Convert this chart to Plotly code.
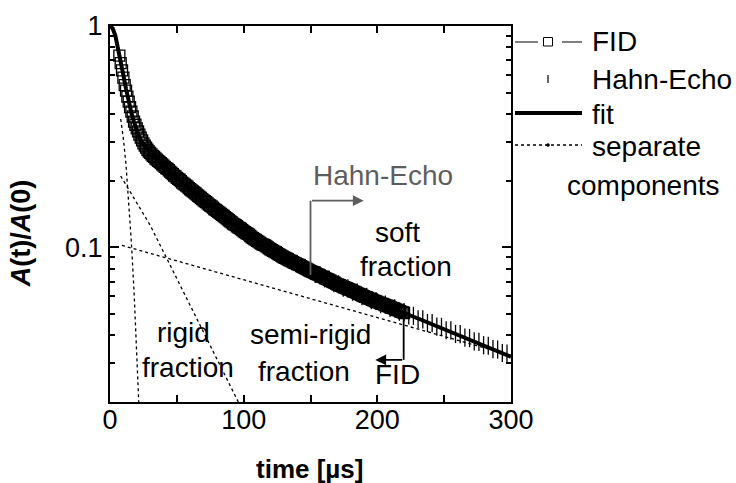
import math
import plotly.graph_objects as go

# ---- measured echo amplitudes ------------------------------------------------
fid_t = list(range(7, 221))
fid_amp = [
    0.735, 0.680, 0.630, 0.585, 0.540, 0.510, 0.480, 0.455, 0.430, 0.410,
    0.390, 0.370, 0.358, 0.345, 0.334, 0.323, 0.313, 0.304, 0.295, 0.288,
    0.282, 0.276, 0.271, 0.267, 0.263, 0.259, 0.256, 0.252, 0.249, 0.246,
    0.243, 0.240, 0.237, 0.234,
    0.231, 0.228, 0.226, 0.223, 0.220, 0.217, 0.214, 0.211, 0.209, 0.206,
    0.204, 0.202, 0.199, 0.196, 0.194, 0.192, 0.190, 0.188, 0.185, 0.183,
    0.181, 0.179, 0.177, 0.175, 0.173, 0.171, 0.169, 0.167, 0.165, 0.163,
    0.1615, 0.160, 0.158, 0.156, 0.1545, 0.153, 0.151, 0.149, 0.1475, 0.146,
    0.1445, 0.143, 0.1415, 0.140, 0.1385, 0.137, 0.1355, 0.134, 0.1325, 0.131,
    0.1295, 0.128, 0.127, 0.126, 0.1245, 0.123, 0.122, 0.121, 0.1195, 0.118,
    0.117, 0.116, 0.115, 0.114, 0.1125, 0.111, 0.110, 0.109, 0.108, 0.107,
    0.106, 0.105, 0.104, 0.103, 0.1025, 0.102, 0.101, 0.100, 0.099, 0.098,
    0.0972, 0.0964, 0.0957, 0.0950, 0.0941, 0.0932, 0.0925, 0.0918, 0.0909, 0.0900,
    0.0895, 0.0890, 0.0883, 0.0876, 0.0870, 0.0865, 0.0858, 0.0851, 0.0846, 0.0840,
    0.0835, 0.0830, 0.0822, 0.0815, 0.0810, 0.0806, 0.0799, 0.0792, 0.0786, 0.0780,
    0.0776, 0.0772, 0.0766, 0.0760, 0.0756, 0.0752, 0.0746, 0.0740, 0.0736, 0.0732,
    0.0726, 0.0720, 0.0716, 0.0712, 0.0706, 0.0700, 0.0696, 0.0692, 0.0686, 0.0680,
    0.0677, 0.0674, 0.0669, 0.0664, 0.0661, 0.0658, 0.0653, 0.0648, 0.0645, 0.0642,
    0.0637, 0.0632, 0.0629, 0.0626, 0.0621, 0.0616, 0.0613, 0.0610, 0.0605, 0.0600,
    0.0597, 0.0595, 0.0590, 0.0586, 0.0583, 0.0581, 0.0576, 0.0572, 0.0569, 0.0567,
    0.0563, 0.0559, 0.0557, 0.0555, 0.0551, 0.0547, 0.0545, 0.0543, 0.0539, 0.0535,
    0.0533, 0.0531, 0.0527, 0.0523, 0.0521, 0.0519, 0.0515, 0.0511, 0.0508, 0.0505,
]

hahn_t = [150 + 3.5 * i for i in range(43)]
hahn_amp = [
    0.0786, 0.0758, 0.0748, 0.0724, 0.0714, 0.0688, 0.0680, 0.0658, 0.0652, 0.0630,
    0.0624, 0.0602, 0.0597, 0.0577, 0.0572, 0.0553, 0.0551, 0.0532, 0.0530, 0.0512,
    0.0509, 0.0492, 0.0490, 0.0473, 0.0472, 0.0455, 0.0454, 0.0438, 0.0437, 0.0422,
    0.0421, 0.0406, 0.0405, 0.0391, 0.0389, 0.0376, 0.0374, 0.0361, 0.0359, 0.0347,
    0.0345, 0.0333, 0.0331,
]

# ---- three-component fit ------------------------------------------------------
fit_t = [0, 2, 4, 6, 8, 10, 12, 14, 16, 18, 20, 22, 24, 26, 28, 30, 35, 40, 45,
         50, 60, 70, 80, 90, 100, 110, 120, 130, 140, 150, 160, 170, 180, 190,
         200, 210, 220, 230, 240, 250, 260, 270, 280, 290, 300]
fit_amp = [1.0, 0.975, 0.905, 0.80, 0.70, 0.60, 0.52, 0.455, 0.405, 0.368,
           0.338, 0.314, 0.298, 0.286, 0.276, 0.268, 0.250, 0.234, 0.219,
           0.206, 0.183, 0.163, 0.146, 0.131, 0.118, 0.107, 0.098, 0.090,
           0.084, 0.078, 0.073, 0.068, 0.064, 0.060, 0.0565, 0.0535, 0.0505,
           0.0478, 0.0452, 0.0426, 0.0402, 0.0380, 0.0359, 0.0339, 0.0320]

rigid_t = [8, 10, 12, 14, 16, 18, 20, 21.5]
rigid_amp = [0.38, 0.31, 0.235, 0.163, 0.105, 0.063, 0.033, 0.020]

semi_t = [8, 18.7, 30, 42.5, 60, 78, 96]
semi_amp = [0.21, 0.164, 0.126, 0.089, 0.0545, 0.033, 0.020]

soft_t = [9, 135, 219.5, 300]
soft_amp = [0.102, 0.0622, 0.0446, 0.0325]

x_ticks = [0, 50, 100, 150, 200, 250, 300]
x_tick_text = ["0", "", "100", "", "200", "", "300"]
y_ticks = [0.1, 1]
y_tick_text = ["0.1", "1"]
y_minor = [0.03, 0.04, 0.05, 0.06, 0.07, 0.08, 0.09,
           0.2, 0.3, 0.4, 0.5, 0.6, 0.7, 0.8, 0.9]

FONT = "Liberation Sans, Arial, sans-serif"
GREY = "#5e5e5e"

fig = go.Figure()

for t, a in ((rigid_t, rigid_amp), (semi_t, semi_amp), (soft_t, soft_amp)):
    fig.add_trace(go.Scatter(x=t, y=a, mode="lines",
                             line=dict(color="black", width=1.3, dash="dot"),
                             hoverinfo="skip"))

fig.add_trace(go.Scatter(x=hahn_t, y=hahn_amp, mode="markers",
                         marker=dict(symbol="line-ns", size=13,
                                     line=dict(color="black", width=1.3))))

fig.add_trace(go.Scatter(x=fid_t, y=fid_amp, mode="markers",
                         marker=dict(symbol="square-open", size=11, color="black",
                                     line=dict(color="black", width=1.3))))

fig.add_trace(go.Scatter(x=fit_t, y=fit_amp, mode="lines",
                         line=dict(color="black", width=4)))

# bent pointer lines (vertical legs)
fig.add_trace(go.Scatter(x=[150, 150], y=[0.075, 0.1624], mode="lines",
                         line=dict(color=GREY, width=1.8), hoverinfo="skip"))
fig.add_trace(go.Scatter(x=[219.7, 219.7], y=[0.0494, 0.031], mode="lines",
                         line=dict(color="black", width=1.8), hoverinfo="skip"))

annotations = []


def label(text, t, amp, color="black", size=28):
    annotations.append(dict(x=t, y=math.log10(amp), xref="x", yref="y",
                            text=text, showarrow=False,
                            font=dict(family=FONT, size=size, color=color),
                            xanchor="center", yanchor="middle"))


def arrow(t0, t1, amp, color):
    annotations.append(dict(x=t1, y=math.log10(amp), ax=t0, ay=math.log10(amp),
                            xref="x", yref="y", axref="x", ayref="y",
                            text="", showarrow=True, arrowhead=2,
                            arrowsize=1.2, arrowwidth=1.8, arrowcolor=color))


label("Hahn-Echo", 204, 0.212, GREY)
label("soft", 215, 0.117)
label("fraction", 221.7, 0.0815)
label("semi-rigid", 150.2, 0.0402)
label("fraction", 145, 0.0274)
label("rigid", 55, 0.0414)
label("fraction", 58, 0.0285)
label("FID", 215.4, 0.0265)
arrow(150, 189.8, 0.1624, GREY)
arrow(219.7, 198.5, 0.031, "black")

# axis titles
annotations.append(dict(x=-0.222, y=0.449, xref="paper", yref="paper",
                        text="<b><i>A</i>(t)/<i>A</i>(0)</b>", textangle=-90,
                        showarrow=False, font=dict(family=FONT, size=27, color="black"),
                        xanchor="center", yanchor="middle"))
annotations.append(dict(x=0.497, y=-0.178, xref="paper", yref="paper",
                        text="<b>time [µs]</b>", showarrow=False,
                        font=dict(family=FONT, size=26, color="black"),
                        xanchor="center", yanchor="middle"))

# ---- key on the right ---------------------------------------------------------
L, R, T, B = 110, 511, 26, 402


def px(x):
    return (x - L) / (R - L)


def py(y):
    return (B - y) / (B - T)


shapes = []
key_items = [("FID", 590, 42), ("Hahn-Echo", 590, 79), ("fit", 590, 114),
             ("separate", 590, 146), ("components", 565, 186)]
for text, x, y in key_items:
    annotations.append(dict(x=px(x), y=py(y), xref="paper", yref="paper",
                            text=text, showarrow=False, xanchor="left",
                            yanchor="middle",
                            font=dict(family=FONT, size=28, color="black")))

shapes.append(dict(type="line", xref="paper", yref="paper", x0=px(515), x1=px(538),
                   y0=py(42), y1=py(42), line=dict(color="black", width=1)))
shapes.append(dict(type="line", xref="paper", yref="paper", x0=px(562), x1=px(582),
                   y0=py(42), y1=py(42), line=dict(color="black", width=1)))
shapes.append(dict(type="rect", xref="paper", yref="paper", x0=px(543.5), x1=px(552.5),
                   y0=py(37.5), y1=py(46), line=dict(color="black", width=1),
                   fillcolor="white"))
shapes.append(dict(type="line", xref="paper", yref="paper", x0=px(548), x1=px(548),
                   y0=py(75), y1=py(83), line=dict(color="black", width=1.2)))
shapes.append(dict(type="line", xref="paper", yref="paper", x0=px(515), x1=px(582),
                   y0=py(113), y1=py(113), line=dict(color="black", width=4)))
shapes.append(dict(type="line", xref="paper", yref="paper", x0=px(515), x1=px(582),
                   y0=py(145), y1=py(145), line=dict(color="black", width=1.3, dash="dot")))
shapes.append(dict(type="circle", xref="paper", yref="paper", x0=px(546.5), x1=px(549.5),
                   y0=py(143.5), y1=py(146.5), line=dict(color="black", width=0.5),
                   fillcolor="black"))

fig.update_layout(
    width=736, height=483,
    margin=dict(l=L, r=736 - R, t=T, b=483 - B),
    plot_bgcolor="white", paper_bgcolor="white",
    showlegend=False,
    font=dict(family=FONT, size=27, color="black"),
    annotations=annotations,
    shapes=shapes,
    xaxis=dict(range=[0, 300], tickvals=x_ticks, ticktext=x_tick_text,
               ticks="inside", ticklen=7, tickwidth=1.5, tickcolor="black",
               ticklabelstandoff=-7,
               showline=True, linewidth=2, linecolor="black", mirror="ticks",
               showgrid=False, zeroline=False,
               tickfont=dict(family=FONT, size=27, color="black")),
    yaxis=dict(type="log", range=[math.log10(0.02), 0],
               tickvals=y_ticks, ticktext=y_tick_text,
               ticks="inside", ticklen=9, tickwidth=1.5, tickcolor="black",
               minor=dict(tickvals=y_minor, ticks="inside", ticklen=5,
                          tickwidth=1.5, tickcolor="black"),
               showline=True, linewidth=2, linecolor="black", mirror="ticks",
               showgrid=False, zeroline=False,
               tickfont=dict(family=FONT, size=27, color="black")),
)

fig.write_html("out.html")
